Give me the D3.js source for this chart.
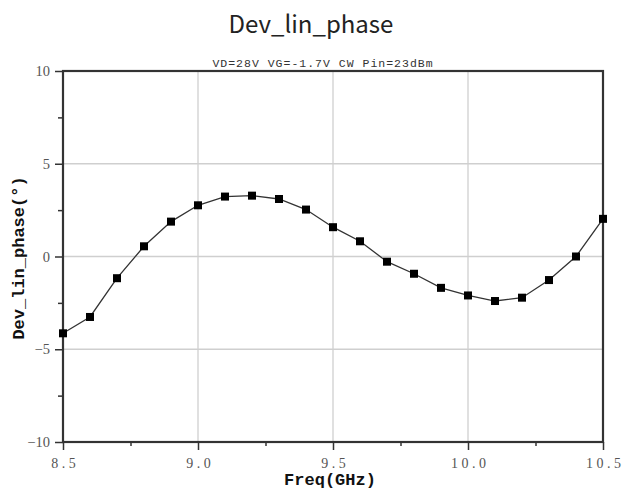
<!DOCTYPE html>
<html>
<head>
<meta charset="utf-8">
<script src="https://cdn.jsdelivr.net/npm/d3@7"></script>
<style>
  html, body { margin: 0; padding: 0; background: #fff; }
  svg { display: block; }
</style>
</head>
<body>
<svg id="chart" width="631" height="493"></svg>
<script>
// Frequency sweep (GHz) and linear-phase deviation (degrees)
const freq = [8.5, 8.6, 8.7, 8.8, 8.9, 9.0, 9.1, 9.2, 9.3, 9.4, 9.5,
              9.6, 9.7, 9.8, 9.9, 10.0, 10.1, 10.2, 10.3, 10.4, 10.5];
const devPhase = [-4.14, -3.26, -1.17, 0.55, 1.88, 2.76, 3.23, 3.28, 3.10, 2.53, 1.58,
                  0.82, -0.28, -0.93, -1.69, -2.10, -2.40, -2.22, -1.27, 0.00, 2.03];
const xTicks = [8.5, 9.0, 9.5, 10.0, 10.5];
const xMinor = [8.75, 9.25, 9.75, 10.25];
const yTicks = [-10, -5, 0, 5, 10];
const yMinor = [-7.5, -2.5, 2.5, 7.5];

const svg = d3.select("#chart");
const plotL = 63, plotR = 603, plotT = 71, plotB = 442;

const x = d3.scaleLinear().domain([8.5, 10.5]).range([plotL, plotR]);
const y = d3.scaleLinear().domain([-10, 10]).range([plotB, plotT]);

// Title and measurement conditions
svg.append("text")
  .attr("x", 311).attr("y", 33)
  .attr("text-anchor", "middle")
  .style("font-family", "'Noto Sans CJK SC', 'Noto Sans', sans-serif")
  .style("font-size", "24px")
  .style("fill", "#222")
  .text("Dev_lin_phase");

svg.append("text")
  .attr("x", 323).attr("y", 67)
  .attr("text-anchor", "middle")
  .style("font-family", "'Liberation Mono', 'DejaVu Sans Mono', monospace")
  .style("font-size", "11.5px")
  .style("letter-spacing", "1px")
  .style("fill", "#333")
  .text("VD=28V VG=-1.7V CW Pin=23dBm");

// Grid lines
const grid = svg.append("g").attr("stroke", "#cfcfcf").attr("stroke-width", 1.3);
grid.selectAll("line.gx").data(xTicks.slice(1, -1)).join("line")
  .attr("class", "gx")
  .attr("x1", d => x(d)).attr("x2", d => x(d))
  .attr("y1", plotT).attr("y2", plotB);
grid.selectAll("line.gy").data(yTicks.slice(1, -1)).join("line")
  .attr("class", "gy")
  .attr("x1", plotL).attr("x2", plotR)
  .attr("y1", d => y(d)).attr("y2", d => y(d));

// Axes
const xAxis = d3.axisBottom(x).tickValues(xTicks).tickSize(8).tickPadding(8)
  .tickFormat(d => d3.format(".1f")(d));
const gx = svg.append("g").attr("transform", `translate(0,${plotB})`).call(xAxis);
gx.select(".domain").remove();
gx.selectAll("line").attr("stroke", "#333").attr("stroke-width", 1.5);
gx.selectAll("text")
  .attr("dx", "1.75px")
  .style("font-family", "'Liberation Serif', 'DejaVu Serif', serif")
  .style("font-size", "14px")
  .style("letter-spacing", "3.5px")
  .style("fill", "#555");

const xAxisMinor = d3.axisBottom(x).tickValues(xMinor).tickSize(4).tickFormat("");
const gxm = svg.append("g").attr("transform", `translate(0,${plotB})`).call(xAxisMinor);
gxm.select(".domain").remove();
gxm.selectAll("line").attr("stroke", "#333").attr("stroke-width", 1.5);

const yAxis = d3.axisLeft(y).tickValues(yTicks).tickSize(8).tickPadding(5)
  .tickFormat(d => d < 0 ? "\u2212" + Math.abs(d) : String(d));
const gy = svg.append("g").attr("transform", `translate(${plotL},0)`).call(yAxis);
gy.select(".domain").remove();
gy.selectAll("line").attr("stroke", "#333").attr("stroke-width", 1.5);
gy.selectAll("text")
  .style("font-family", "'Liberation Serif', 'DejaVu Serif', serif")
  .style("font-size", "14.5px")
  .style("fill", "#555");

const yAxisMinor = d3.axisLeft(y).tickValues(yMinor).tickSize(5).tickFormat("");
const gym = svg.append("g").attr("transform", `translate(${plotL},0)`).call(yAxisMinor);
gym.select(".domain").remove();
gym.selectAll("line").attr("stroke", "#333").attr("stroke-width", 1.5);

// Plot frame
svg.append("rect")
  .attr("x", plotL).attr("y", plotT)
  .attr("width", plotR - plotL).attr("height", plotB - plotT)
  .attr("fill", "none").attr("stroke", "#333").attr("stroke-width", 2.2);

// Axis titles
svg.append("text")
  .attr("x", 330).attr("y", 485)
  .attr("text-anchor", "middle")
  .style("font-family", "'Liberation Mono', 'DejaVu Sans Mono', monospace")
  .style("font-weight", "bold")
  .style("font-size", "17px")
  .style("fill", "#111")
  .text("Freq(GHz)");

svg.append("text")
  .attr("transform", `translate(24,258) rotate(-90)`)
  .attr("text-anchor", "middle")
  .style("font-family", "'Liberation Mono', 'DejaVu Sans Mono', monospace")
  .style("font-weight", "bold")
  .style("font-size", "17px")
  .style("fill", "#111")
  .text("Dev_lin_phase(°)");

// Trace and markers
const pts = freq.map((f, i) => [f, devPhase[i]]);
svg.append("path")
  .datum(pts)
  .attr("fill", "none")
  .attr("stroke", "#333")
  .attr("stroke-width", 1.3)
  .attr("d", d3.line().x(d => x(d[0])).y(d => y(d[1])));

const ms = 8;
svg.append("g").selectAll("rect").data(pts).join("rect")
  .attr("x", d => x(d[0]) - ms / 2)
  .attr("y", d => y(d[1]) - ms / 2)
  .attr("width", ms).attr("height", ms)
  .attr("fill", "#000");
</script>
</body>
</html>
